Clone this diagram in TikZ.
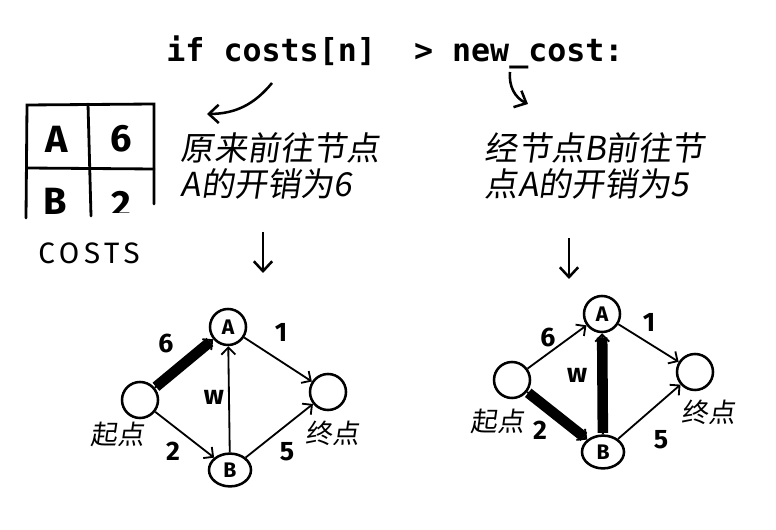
\documentclass[tikz,border=0pt]{standalone}
\usepackage{fontspec}
\setmainfont{Fira Sans}
\newfontfamily\cjk[FakeSlant=0.15]{Noto Sans CJK SC}
\newfontfamily\codefont{DejaVu Sans Mono}
\usetikzlibrary{arrows.meta, shapes.geometric}

\begin{document}
\begin{tikzpicture}[x=0.025cm, y=-0.025cm,
    vertex/.style={draw, circle, line width=1.8pt, minimum size=0.9cm,
        inner sep=0pt, font=\fontsize{15}{15}\selectfont\bfseries},
    edge/.style={line width=1.3pt,
        -{Straight Barb[length=5pt, width=10pt, line width=1.3pt]}},
    heavy/.style={line width=7.5pt, shorten >=3pt, shorten <=1pt},
    weight/.style={font=\fontsize{19}{19}\selectfont\bfseries},
    place/.style={font=\cjk\fontsize{19}{19}\selectfont},
    note/.style={font=\cjk\fontsize{23.5}{25}\selectfont, align=left, anchor=west},
    cell/.style={font=\fontsize{27}{27}\selectfont\bfseries},
    pointer/.style={line width=1.8pt,
        -{Straight Barb[length=7pt, width=13pt, line width=1.8pt]}}]

    \useasboundingbox (0,0) rectangle (776,530);

    % Condition
    \node[font=\codefont\fontsize{22.5}{22}\selectfont\bfseries] (cond) at (395,52)
        {if costs[n]~~> new\_cost:};
    \coordinate (condL) at (272,83);
    \coordinate (condR) at (510,72);
    \coordinate (tipL) at (207,114);
    \coordinate (tipR) at (528,104);
    \draw[pointer] (condL) to[bend left=25] (tipL);
    \draw[pointer] (condR) to[bend right=35] (tipR);

    % Costs table
    \draw[line width=2pt, line cap=round]
        (26,218) -- (27,105) -- (154,104) -- (154,204);
    \draw[line width=2pt, line cap=round] (88,104) -- (91,216);
    \draw[line width=2pt, line cap=round] (27,168) -- (154,169);
    \node[cell] (ca) at (57,139) {A};
    \node[cell] (c6) at (121,139) {6};
    \node[cell] (cb) at (55,201) {B};
    \begin{scope}
        \clip (95,172) rectangle (150,213);
        \node[cell] (c2) at (121,204) {2};
    \end{scope}
    \node[font=\fontsize{21}{21}\selectfont\addfontfeature{LetterSpace=16}]
        (costs) at (89,253) {COSTS};

    % Notes
    \node[note] (oldnote) at (176,166) {原来前往节点\\A的开销为6};
    \node[note] (newnote) at (480,166) {经节点B前往节\\点A的开销为5};
    \coordinate (downL1) at (263,232);
    \coordinate (downL2) at (263,273);
    \coordinate (downR1) at (569,238);
    \coordinate (downR2) at (569,279);
    \draw[pointer] (downL1) -- (downL2);
    \draw[pointer] (downR1) -- (downR2);

    % Old graph
    \node[vertex] (sA) at (228,327) {A};
    \node[vertex] (sS) at (140,400) {};
    \node[vertex, ellipse, minimum width=1.05cm, minimum height=0.82cm] (sB) at (230,470) {B};
    \node[vertex] (sE) at (328,392) {};
    \draw[edge] (sS) -- (sA);
    \draw[heavy] (sS) -- (sA);
    \draw[edge] (sS) -- (sB);
    \draw[edge] (sB) -- (sA);
    \draw[edge] (sA) -- (sE);
    \draw[edge] (sB) -- (sE);
    \node[weight] (s6) at (166,344) {6};
    \node[weight] (s1) at (281,332) {1};
    \node[weight] (sw) at (214,397) {w};
    \node[weight] (s2) at (173,451) {2};
    \node[weight] (s5) at (287,452) {5};
    \node[place] (sstart) at (117,434) {起点};
    \node[place] (send) at (332,433) {终点};

    % New graph
    \node[vertex] (nA) at (602,314) {A};
    \node[vertex] (nS) at (512,380) {};
    \node[vertex, ellipse, minimum width=1.05cm, minimum height=0.82cm] (nB) at (603,452) {B};
    \node[vertex] (nE) at (695,372) {};
    \draw[edge] (nS) -- (nA);
    \draw[edge] (nS) -- (nB);
    \draw[heavy] (nS) -- (nB);
    \draw[edge] (nB) -- (nA);
    \draw[heavy] (nB) -- (nA);
    \draw[edge] (nA) -- (nE);
    \draw[edge] (nB) -- (nE);
    \node[weight] (n6) at (548,338) {6};
    \node[weight] (n1) at (649,322) {1};
    \node[weight] (nw) at (577,375) {w};
    \node[weight] (n2) at (540,430) {2};
    \node[weight] (n5) at (661,440) {5};
    \node[place] (nstart) at (497,421) {起点};
    \node[place] (nend) at (708,412) {终点};

\end{tikzpicture}
\end{document}
